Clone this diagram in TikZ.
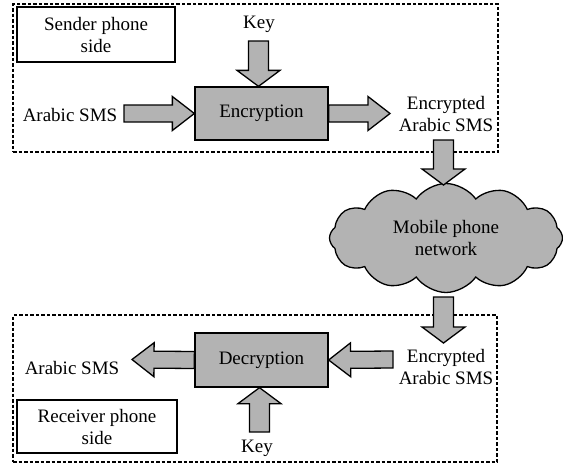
\documentclass[tikz,border=0pt]{standalone}
\usepackage{fontspec}
\setmainfont{Liberation Serif}
\usetikzlibrary{calc,shapes.symbols}
\definecolor{fillgray}{RGB}{179,179,179}
\begin{document}
\begin{tikzpicture}[x=1pt,y=-1pt,
  every node/.style={font=\fontsize{19}{22}\selectfont},
  lbl/.style={align=center, inner sep=0pt},
  frame/.style={draw, dash pattern=on 3.5pt off 2pt, line width=1.3pt, inner sep=0pt},
  sidebox/.style={draw, line width=1.2pt, align=center, inner sep=0pt},
  procbox/.style={draw, line width=1.3pt, fill=fillgray, inner sep=0pt},
  barrow/.style n args={3}{draw, line width=1.3pt, fill=fillgray, line join=miter,
    to path={let \p1=(\tikztostart), \p2=(\tikztotarget),
      \n1={atan2(\y2-\y1,\x2-\x1)}, \p3=($(\p2)+(\n1+180:#3)$) in
      ($(\p1)+(\n1+90:#1)$) -- ($(\p3)+(\n1+90:#1)$) -- ($(\p3)+(\n1+90:#2)$)
      -- (\p2) -- ($(\p3)+(\n1-90:#2)$) -- ($(\p3)+(\n1-90:#1)$)
      -- ($(\p1)+(\n1-90:#1)$) -- cycle}},
  harrow/.style={barrow={8.5pt}{17pt}{22pt}},
  varrow/.style={barrow={10pt}{21.5pt}{16pt}}
]
\useasboundingbox (0,0) rectangle (563,464);

% frames
\node[frame, minimum width=485pt, minimum height=148pt] (topframe) at (255.5,78) {};
\node[frame, minimum width=484pt, minimum height=147pt] (botframe) at (255,388.5) {};

% side labels
\node[sidebox, minimum width=158pt, minimum height=55pt] (sender) at (96,34.5) {Sender phone\\side};
\node[sidebox, minimum width=160pt, minimum height=53pt] (receiver) at (97,426.5) {Receiver phone\\side};

% process boxes
\node[procbox, minimum width=133pt, minimum height=53pt] (enc) at (261.5,113.5) {Encryption};
\node[procbox, minimum width=133pt, minimum height=54pt] (dec) at (261.5,360) {Decryption};

% texts
\node[lbl] (in1) at (70,115) {Arabic SMS};
\node[lbl] (key1) at (259,24) {Key};
\node[lbl] (encout) at (446,114) {Encrypted\\Arabic SMS};
\node[lbl] (encin) at (446,367) {Encrypted\\Arabic SMS};
\node[lbl] (out2) at (72,368) {Arabic SMS};
\node[lbl] (key2) at (257,448) {Key};

% cloud
\node[cloud, draw, line width=1.3pt, fill=fillgray, cloud puffs=12, cloud puff arc=110,
  aspect=2.14, minimum width=233pt, minimum height=109pt, inner sep=0pt, align=center]
  (net) at (446,238) {Mobile phone\\network};

% connector end points
\coordinate (a1) at (124,113.5);
\coordinate (k1) at (258.5,41);
\coordinate (e1) at (390,113.5);
\coordinate (d1) at (443.5,140);
\coordinate (d1t) at (443.5,185);
\coordinate (d2) at (443.5,297);
\coordinate (d2t) at (443.5,343);
\coordinate (r1) at (393,359.5);
\coordinate (k2) at (259.5,432);
\coordinate (o1) at (132,359.5);

% block arrows
\draw[harrow] (a1) to (enc.west);
\draw[varrow] (k1) to (k1 |- enc.north);
\draw[harrow] (enc.east) to (e1);
\draw[varrow] (d1) to (d1t);
\draw[varrow] (d2) to (d2t);
\draw[harrow] (r1) to (dec.east);
\draw[varrow] (k2) to (k2 |- dec.south);
\draw[harrow] (dec.west) to (o1);
\end{tikzpicture}
\end{document}
